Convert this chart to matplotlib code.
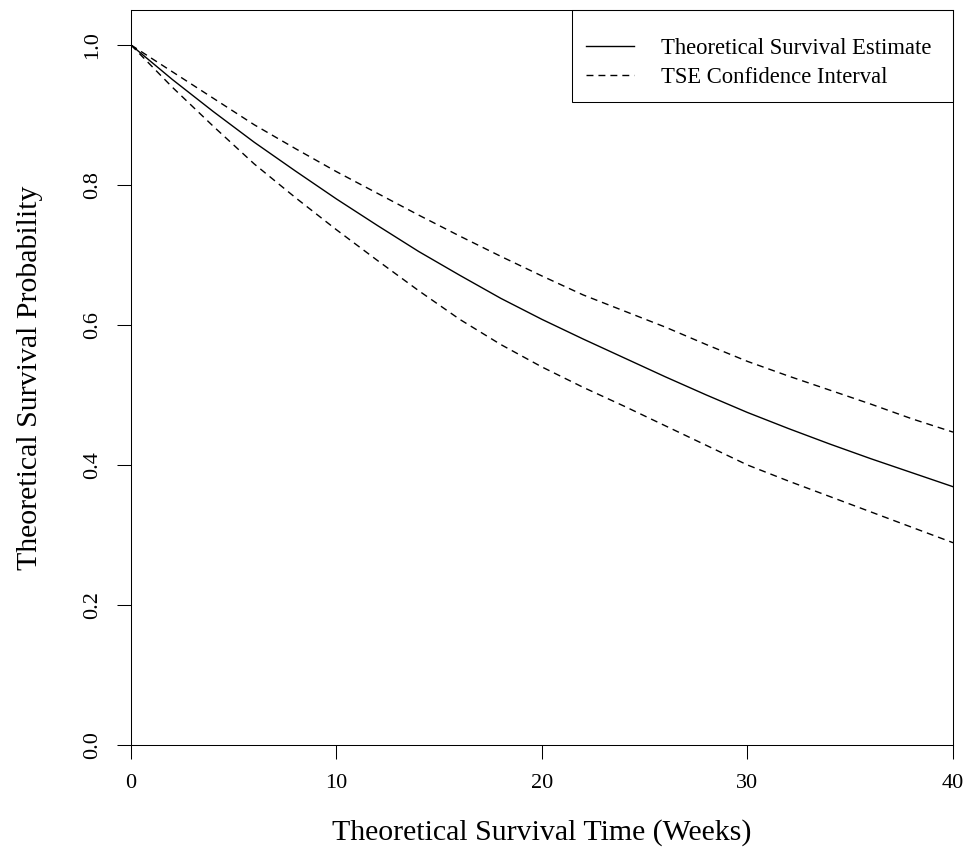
import numpy as np
import matplotlib.pyplot as plt
from matplotlib.patches import Rectangle

plt.rcParams['font.family'] = ['Liberation Serif', 'DejaVu Serif']

# values
weeks = [0, 2, 4, 6, 8, 10, 12, 14, 16, 18, 20, 22, 24, 26, 28, 30, 32, 34, 36, 38, 40]
survival = [1.0, 0.951, 0.905, 0.861, 0.820, 0.780, 0.742, 0.705, 0.671, 0.638, 0.608,
            0.580, 0.553, 0.526, 0.500, 0.475, 0.452, 0.430, 0.409, 0.389, 0.369]
ci_upper = [1.0, 0.962, 0.924, 0.886, 0.852, 0.819, 0.788, 0.757, 0.727, 0.698, 0.670,
            0.643, 0.620, 0.597, 0.572, 0.548, 0.527, 0.507, 0.487, 0.466, 0.447]
ci_lower = [1.0, 0.940, 0.884, 0.830, 0.782, 0.736, 0.692, 0.649, 0.608, 0.572, 0.540,
            0.511, 0.484, 0.456, 0.428, 0.400, 0.377, 0.355, 0.333, 0.311, 0.289]

xticks = [0, 10, 20, 30, 40]
yticks = [0.0, 0.2, 0.4, 0.6, 0.8, 1.0]

W, H = 970, 865
fig = plt.figure(figsize=(W / 100, H / 100), dpi=100)
ax = fig.add_axes([131 / W, 120 / H, 822 / W, 735 / H])

lw = 1.0
dash = (5, 3.6)
ax.plot(weeks, survival, color='black', lw=lw, label='Theoretical Survival Estimate')
ax.plot(weeks, ci_upper, color='black', lw=lw, dashes=dash, label='TSE Confidence Interval')
ax.plot(weeks, ci_lower, color='black', lw=lw, dashes=dash)

ax.set_xlim(0, 40)
ax.set_ylim(0, 1.05)
ax.set_xticks(xticks)
ax.set_xticklabels([str(t) for t in xticks])
ax.set_yticks(yticks)
ax.set_yticklabels(['%.1f' % v for v in yticks], rotation=90, va='center')
ax.tick_params(direction='out', length=10, width=0.75, labelsize=16, pad=11)

for s in ax.spines.values():
    s.set_linewidth(0.75)

ax.set_xlabel('Theoretical Survival Time (Weeks)', fontsize=21.5, labelpad=19)
ax.set_ylabel('Theoretical Survival Probability', fontsize=21.5, labelpad=29)

# R-style legend: box flush with the top-right corner
ax.add_patch(Rectangle((441 / 822, 643 / 735), 381 / 822, 92 / 735, transform=ax.transAxes,
                       fill=False, edgecolor='black', lw=0.75, clip_on=False, zorder=5))
leg = ax.legend(loc='upper right', bbox_to_anchor=(943 / W, (H - 27) / H),
                bbox_transform=fig.transFigure, frameon=False, borderpad=0,
                fontsize=16.3, handlelength=2.12, handletextpad=1.2, labelspacing=0.35)

fig.savefig('out.png', dpi=100)
